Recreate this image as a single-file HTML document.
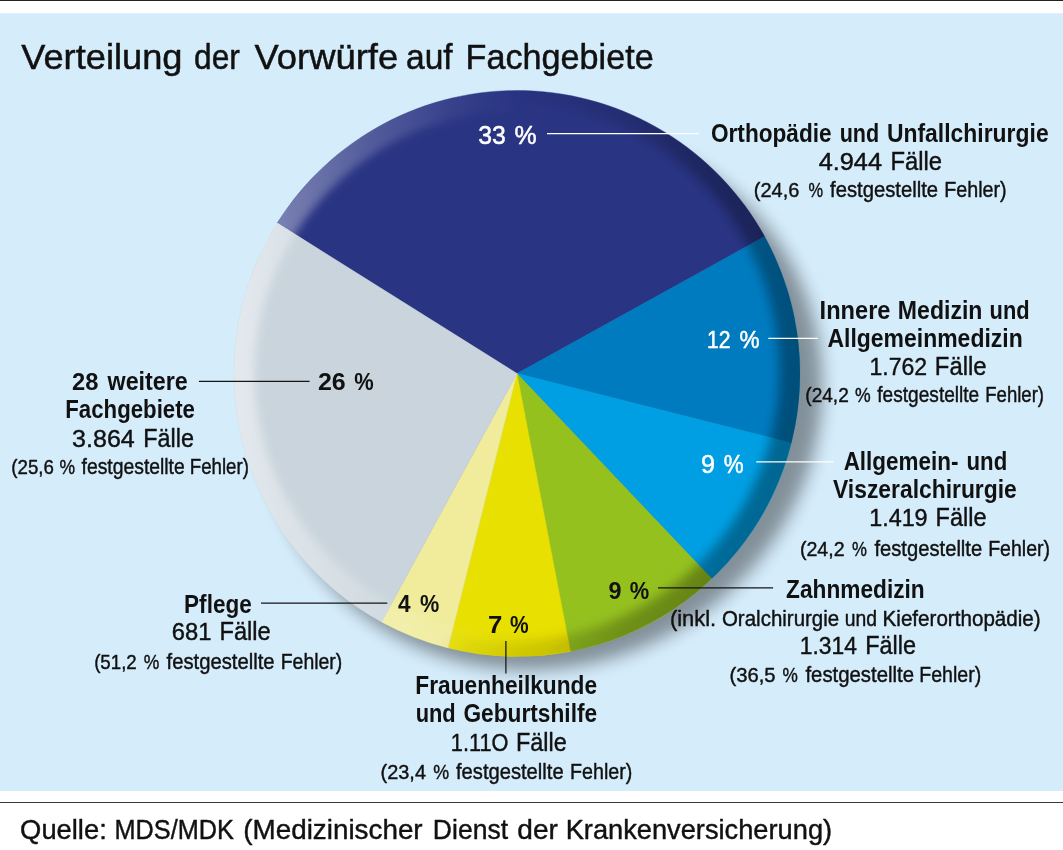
<!DOCTYPE html>
<html lang="de"><head><meta charset="utf-8"><title>Verteilung der Vorwürfe auf Fachgebiete</title>
<style>html,body{margin:0;padding:0;background:#fff}body{width:1063px;height:850px;overflow:hidden}svg{display:block}text{font-family:"Liberation Sans",sans-serif}</style></head><body>
<svg width="1063" height="850" viewBox="0 0 1063 850">
<desc>Tortendiagramm: Verteilung der Vorwürfe auf Fachgebiete. Orthopädie und Unfallchirurgie 33 %, 4.944 Fälle; Innere Medizin und Allgemeinmedizin 12 %, 1.762 Fälle; Allgemein- und Viszeralchirurgie 9 %, 1.419 Fälle; Zahnmedizin 9 %, 1.314 Fälle; Frauenheilkunde und Geburtshilfe 7 %, 1.110 Fälle; Pflege 4 %, 681 Fälle; 28 weitere Fachgebiete 26 %, 3.864 Fälle.</desc>
<defs>
<clipPath id="pc"><circle cx="517" cy="373.5" r="283"/></clipPath>
<filter id="b1" x="-10%" y="-10%" width="120%" height="120%"><feGaussianBlur stdDeviation="4.5"/></filter>
<filter id="b2" x="-10%" y="-10%" width="120%" height="120%"><feGaussianBlur stdDeviation="5.5"/></filter>
<filter id="b3" x="-10%" y="-10%" width="120%" height="120%"><feGaussianBlur stdDeviation="8.5"/></filter>
<linearGradient id="hl" gradientUnits="userSpaceOnUse" x1="234" y1="373.5" x2="517" y2="373.5" gradientTransform="rotate(0 517 373.5)"><stop offset="0" stop-color="#fff" stop-opacity="0.48"/><stop offset="0.15" stop-color="#fff" stop-opacity="0.3792"/><stop offset="0.5" stop-color="#fff" stop-opacity="0.1872"/><stop offset="0.8" stop-color="#fff" stop-opacity="0.0528"/><stop offset="1" stop-color="#fff" stop-opacity="0"/></linearGradient>
<linearGradient id="sh" gradientUnits="userSpaceOnUse" x1="474.55" y1="373.5" x2="800" y2="373.5" gradientTransform="rotate(8 517 373.5)"><stop offset="0" stop-color="#000" stop-opacity="0"/><stop offset="0.13" stop-color="#000" stop-opacity="0.0612"/><stop offset="0.357" stop-color="#000" stop-opacity="0.1332"/><stop offset="0.565" stop-color="#000" stop-opacity="0.252"/><stop offset="0.887" stop-color="#000" stop-opacity="0.342"/><stop offset="1" stop-color="#000" stop-opacity="0.36"/></linearGradient>
</defs>
<rect width="1063" height="850" fill="#fff"/>
<rect x="0" y="0" width="1063" height="1" fill="#222"/>
<rect x="0" y="13.3" width="1063" height="777.7" fill="#d5ecfb"/>
<rect x="0" y="802" width="1063" height="1" fill="#3a3a3a"/>
<ellipse cx="543.4" cy="399.8" rx="282.9" ry="266.1" transform="rotate(-29.75 543.4 399.8)" fill="#000" opacity="0.39" filter="url(#b3)"/>
<path d="M517 373.5 L277.26 223.11 A283 283 0 0 1 764.64 236.51 Z" fill="#293483" stroke="#293483" stroke-width="0.4"/>
<path d="M517 373.5 L764.64 236.51 A283 283 0 0 1 791.35 442.92 Z" fill="#007bc0" stroke="#007bc0" stroke-width="0.4"/>
<path d="M517 373.5 L791.35 442.92 A283 283 0 0 1 711.80 578.78 Z" fill="#009fe3" stroke="#009fe3" stroke-width="0.4"/>
<path d="M517 373.5 L711.80 578.78 A283 283 0 0 1 570.51 651.39 Z" fill="#95c11f" stroke="#95c11f" stroke-width="0.4"/>
<path d="M517 373.5 L570.51 651.39 A283 283 0 0 1 448.06 647.97 Z" fill="#e8e000" stroke="#e8e000" stroke-width="0.4"/>
<path d="M517 373.5 L448.06 647.97 A283 283 0 0 1 381.53 621.97 Z" fill="#f0ec9c" stroke="#f0ec9c" stroke-width="0.4"/>
<path d="M517 373.5 L381.53 621.97 A283 283 0 0 1 277.26 223.11 Z" fill="#c9d4dc" stroke="#c9d4dc" stroke-width="0.4"/>
<g clip-path="url(#pc)">
<path d="M194 373.5a323 323 0 1 0 646 0a323 323 0 1 0 -646 0z M255 373.5a262 262 0 1 0 524 0a262 262 0 1 0 -524 0z" fill-rule="evenodd" fill="url(#hl)" filter="url(#b1)"/>
<path d="M194 373.5a323 323 0 1 0 646 0a323 323 0 1 0 -646 0z M239 371.5a270 270 0 1 0 540 0a270 270 0 1 0 -540 0z" fill-rule="evenodd" fill="url(#sh)" filter="url(#b2)"/>
</g>
<line x1="547" y1="133.6" x2="699" y2="133.6" stroke="#fff" stroke-width="1.15"/>
<line x1="768.3" y1="338.3" x2="817.8" y2="338.3" stroke="#fff" stroke-width="1.15"/>
<line x1="756.2" y1="461.8" x2="833.6" y2="461.8" stroke="#fff" stroke-width="1.15"/>
<line x1="658" y1="587.8" x2="773.1" y2="587.8" stroke="#151515" stroke-width="1.25"/>
<line x1="505.9" y1="641" x2="505.9" y2="673.5" stroke="#151515" stroke-width="1.25"/>
<line x1="261" y1="603.2" x2="387.3" y2="603.2" stroke="#151515" stroke-width="1.25"/>
<line x1="198.9" y1="381.4" x2="309.6" y2="381.4" stroke="#151515" stroke-width="1.25"/>
<g opacity="0.999">
<text font-weight="400" fill="#111" stroke="#111" stroke-width="0.5" stroke-linejoin="round"><tspan x="21.25" y="69.15" font-size="35.79" textLength="161.24" lengthAdjust="spacingAndGlyphs">Verteilung</tspan> <tspan x="194.06" y="69.15" font-size="35.79" textLength="45.85" lengthAdjust="spacingAndGlyphs">der</tspan> <tspan x="254.55" y="69.15" font-size="35.79" textLength="143.68" lengthAdjust="spacingAndGlyphs">Vorwürfe</tspan> <tspan x="406.00" y="69.15" font-size="35.79" textLength="46.63" lengthAdjust="spacingAndGlyphs">auf</tspan> <tspan x="465.58" y="69.15" font-size="35.79" textLength="188.05" lengthAdjust="spacingAndGlyphs">Fachgebiete</tspan>
</text>
<text font-weight="400" fill="#111" stroke="#111" stroke-width="0.42" stroke-linejoin="round"><tspan x="20.13" y="839.09" font-size="27.2" textLength="86.63" lengthAdjust="spacingAndGlyphs">Quelle:</tspan> <tspan x="114.54" y="839.09" font-size="27.2" textLength="119.33" lengthAdjust="spacingAndGlyphs">MDS/MDK</tspan> <tspan x="243.31" y="839.09" font-size="27.2" textLength="179.32" lengthAdjust="spacingAndGlyphs">(Medizinischer</tspan> <tspan x="432.84" y="839.09" font-size="27.2" textLength="75.26" lengthAdjust="spacingAndGlyphs">Dienst</tspan> <tspan x="517.33" y="839.09" font-size="27.2" textLength="40.59" lengthAdjust="spacingAndGlyphs">der</tspan> <tspan x="565.68" y="839.09" font-size="27.2" textLength="266.42" lengthAdjust="spacingAndGlyphs">Krankenversicherung)</tspan>
</text>
<text font-weight="700" fill="#111"><tspan x="710.99" y="141.80" font-size="25.4" textLength="120.57" lengthAdjust="spacingAndGlyphs">Orthopädie</tspan> <tspan x="839.69" y="141.80" font-size="25.4" textLength="39.49" lengthAdjust="spacingAndGlyphs">und</tspan> <tspan x="886.93" y="141.80" font-size="25.4" textLength="161.75" lengthAdjust="spacingAndGlyphs">Unfallchirurgie</tspan>
</text>
<text font-weight="400" fill="#111" stroke="#111" stroke-width="0.42" stroke-linejoin="round"><tspan x="818.71" y="170.09" font-size="23.4" textLength="63.31" lengthAdjust="spacingAndGlyphs">4.944</tspan> <tspan x="890.55" y="170.09" font-size="25" textLength="51.50" lengthAdjust="spacingAndGlyphs">Fälle</tspan>
</text>
<text font-weight="400" fill="#111" stroke="#111" stroke-width="0.42" stroke-linejoin="round"><tspan x="753.87" y="197.49" font-size="20.6" textLength="45.53" lengthAdjust="spacingAndGlyphs">(24,6</tspan> <tspan x="808.40" y="197.49" font-size="20.6" textLength="14.58" lengthAdjust="spacingAndGlyphs">%</tspan> <tspan x="830.01" y="197.49" font-size="21.8" textLength="108.10" lengthAdjust="spacingAndGlyphs">festgestellte</tspan> <tspan x="944.27" y="197.49" font-size="21.8" textLength="62.34" lengthAdjust="spacingAndGlyphs">Fehler)</tspan>
</text>
<text font-weight="700" fill="#111"><tspan x="819.62" y="319.10" font-size="25.4" textLength="70.86" lengthAdjust="spacingAndGlyphs">Innere</tspan> <tspan x="897.86" y="319.10" font-size="25.4" textLength="84.56" lengthAdjust="spacingAndGlyphs">Medizin</tspan> <tspan x="989.58" y="319.10" font-size="25.4" textLength="40.02" lengthAdjust="spacingAndGlyphs">und</tspan>
</text>
<text font-weight="700" fill="#111"><tspan x="827.44" y="347.40" font-size="25.4" textLength="195.27" lengthAdjust="spacingAndGlyphs">Allgemeinmedizin</tspan>
</text>
<text font-weight="400" fill="#111" stroke="#111" stroke-width="0.42" stroke-linejoin="round"><tspan x="869.47" y="374.69" font-size="23.4" textLength="57.65" lengthAdjust="spacingAndGlyphs">1.762</tspan> <tspan x="934.85" y="374.69" font-size="25" textLength="51.71" lengthAdjust="spacingAndGlyphs">Fälle</tspan>
</text>
<text font-weight="400" fill="#111" stroke="#111" stroke-width="0.42" stroke-linejoin="round"><tspan x="805.32" y="402.19" font-size="20.6" textLength="43.45" lengthAdjust="spacingAndGlyphs">(24,2</tspan> <tspan x="855.06" y="402.19" font-size="20.6" textLength="15.65" lengthAdjust="spacingAndGlyphs">%</tspan> <tspan x="877.31" y="402.19" font-size="21.8" textLength="101.95" lengthAdjust="spacingAndGlyphs">festgestellte</tspan> <tspan x="985.26" y="402.19" font-size="21.8" textLength="58.79" lengthAdjust="spacingAndGlyphs">Fehler)</tspan>
</text>
<text font-weight="700" fill="#111"><tspan x="843.65" y="470.10" font-size="25.4" textLength="114.86" lengthAdjust="spacingAndGlyphs">Allgemein-</tspan> <tspan x="966.56" y="470.10" font-size="25.4" textLength="40.66" lengthAdjust="spacingAndGlyphs">und</tspan>
</text>
<text font-weight="700" fill="#111"><tspan x="833.00" y="497.80" font-size="25.4" textLength="183.77" lengthAdjust="spacingAndGlyphs">Viszeralchirurgie</tspan>
</text>
<text font-weight="400" fill="#111" stroke="#111" stroke-width="0.42" stroke-linejoin="round"><tspan x="869.15" y="525.59" font-size="23.4" textLength="58.49" lengthAdjust="spacingAndGlyphs">1.419</tspan> <tspan x="935.57" y="525.59" font-size="25" textLength="50.97" lengthAdjust="spacingAndGlyphs">Fälle</tspan>
</text>
<text font-weight="400" fill="#111" stroke="#111" stroke-width="0.42" stroke-linejoin="round"><tspan x="799.89" y="555.69" font-size="20.6" textLength="44.69" lengthAdjust="spacingAndGlyphs">(24,2</tspan> <tspan x="852.09" y="555.69" font-size="20.6" textLength="14.90" lengthAdjust="spacingAndGlyphs">%</tspan> <tspan x="874.41" y="555.69" font-size="21.8" textLength="107.80" lengthAdjust="spacingAndGlyphs">festgestellte</tspan> <tspan x="988.18" y="555.69" font-size="21.8" textLength="61.92" lengthAdjust="spacingAndGlyphs">Fehler)</tspan>
</text>
<text font-weight="700" fill="#111"><tspan x="786.05" y="598.30" font-size="25.4" textLength="138.65" lengthAdjust="spacingAndGlyphs">Zahnmedizin</tspan>
</text>
<text font-weight="400" fill="#111" stroke="#111" stroke-width="0.42" stroke-linejoin="round"><tspan x="669.88" y="626.09" font-size="21.8" textLength="46.29" lengthAdjust="spacingAndGlyphs">(inkl.</tspan> <tspan x="721.95" y="626.09" font-size="21.8" textLength="117.27" lengthAdjust="spacingAndGlyphs">Oralchirurgie</tspan> <tspan x="844.80" y="626.09" font-size="21.8" textLength="32.28" lengthAdjust="spacingAndGlyphs">und</tspan> <tspan x="882.60" y="626.09" font-size="21.8" textLength="158.06" lengthAdjust="spacingAndGlyphs">Kieferorthopädie)</tspan>
</text>
<text font-weight="400" fill="#111" stroke="#111" stroke-width="0.42" stroke-linejoin="round"><tspan x="799.78" y="654.39" font-size="23.4" textLength="57.18" lengthAdjust="spacingAndGlyphs">1.314</tspan> <tspan x="865.28" y="654.39" font-size="25" textLength="50.76" lengthAdjust="spacingAndGlyphs">Fälle</tspan>
</text>
<text font-weight="400" fill="#111" stroke="#111" stroke-width="0.42" stroke-linejoin="round"><tspan x="729.46" y="682.19" font-size="20.6" textLength="46.15" lengthAdjust="spacingAndGlyphs">(36,5</tspan> <tspan x="782.57" y="682.19" font-size="20.6" textLength="15.33" lengthAdjust="spacingAndGlyphs">%</tspan> <tspan x="805.41" y="682.19" font-size="21.8" textLength="108.60" lengthAdjust="spacingAndGlyphs">festgestellte</tspan> <tspan x="919.28" y="682.19" font-size="21.8" textLength="62.02" lengthAdjust="spacingAndGlyphs">Fehler)</tspan>
</text>
<text font-weight="700" fill="#111"><tspan x="415.28" y="693.90" font-size="25.4" textLength="181.89" lengthAdjust="spacingAndGlyphs">Frauenheilkunde</tspan>
</text>
<text font-weight="700" fill="#111"><tspan x="415.68" y="721.80" font-size="25.4" textLength="40.02" lengthAdjust="spacingAndGlyphs">und</tspan> <tspan x="463.39" y="721.80" font-size="25.4" textLength="133.78" lengthAdjust="spacingAndGlyphs">Geburtshilfe</tspan>
</text>
<text font-weight="400" fill="#111" stroke="#111" stroke-width="0.42" stroke-linejoin="round"><tspan x="450.85" y="750.59" font-size="23.4" textLength="57.58" lengthAdjust="spacingAndGlyphs">1.11O</tspan> <tspan x="515.98" y="750.59" font-size="25" textLength="50.76" lengthAdjust="spacingAndGlyphs">Fälle</tspan>
</text>
<text font-weight="400" fill="#111" stroke="#111" stroke-width="0.42" stroke-linejoin="round"><tspan x="380.58" y="778.69" font-size="20.6" textLength="45.41" lengthAdjust="spacingAndGlyphs">(23,4</tspan> <tspan x="433.15" y="778.69" font-size="20.6" textLength="15.87" lengthAdjust="spacingAndGlyphs">%</tspan> <tspan x="456.01" y="778.69" font-size="21.8" textLength="107.60" lengthAdjust="spacingAndGlyphs">festgestellte</tspan> <tspan x="569.97" y="778.69" font-size="21.8" textLength="62.34" lengthAdjust="spacingAndGlyphs">Fehler)</tspan>
</text>
<text font-weight="700" fill="#111"><tspan x="184.09" y="613.20" font-size="25.4" textLength="67.67" lengthAdjust="spacingAndGlyphs">Pflege</tspan>
</text>
<text font-weight="400" fill="#111" stroke="#111" stroke-width="0.42" stroke-linejoin="round"><tspan x="171.80" y="640.49" font-size="23.4" textLength="39.66" lengthAdjust="spacingAndGlyphs">681</tspan> <tspan x="219.46" y="640.49" font-size="25" textLength="51.29" lengthAdjust="spacingAndGlyphs">Fälle</tspan>
</text>
<text font-weight="400" fill="#111" stroke="#111" stroke-width="0.42" stroke-linejoin="round"><tspan x="94.13" y="668.59" font-size="20.6" textLength="42.61" lengthAdjust="spacingAndGlyphs">(51,2</tspan> <tspan x="143.86" y="668.59" font-size="20.6" textLength="15.55" lengthAdjust="spacingAndGlyphs">%</tspan> <tspan x="166.51" y="668.59" font-size="21.8" textLength="108.10" lengthAdjust="spacingAndGlyphs">festgestellte</tspan> <tspan x="280.69" y="668.59" font-size="21.8" textLength="61.61" lengthAdjust="spacingAndGlyphs">Fehler)</tspan>
</text>
<text font-weight="700" fill="#111"><tspan x="71.96" y="390.30" font-size="24.4" textLength="26.43" lengthAdjust="spacingAndGlyphs">28</tspan> <tspan x="107.56" y="390.30" font-size="25.4" textLength="80.22" lengthAdjust="spacingAndGlyphs">weitere</tspan>
</text>
<text font-weight="700" fill="#111"><tspan x="65.31" y="418.20" font-size="25.4" textLength="129.64" lengthAdjust="spacingAndGlyphs">Fachgebiete</tspan>
</text>
<text font-weight="400" fill="#111" stroke="#111" stroke-width="0.42" stroke-linejoin="round"><tspan x="72.13" y="446.69" font-size="23.4" textLength="62.69" lengthAdjust="spacingAndGlyphs">3.864</tspan> <tspan x="143.28" y="446.69" font-size="25" textLength="50.65" lengthAdjust="spacingAndGlyphs">Fälle</tspan>
</text>
<text font-weight="400" fill="#111" stroke="#111" stroke-width="0.42" stroke-linejoin="round"><tspan x="11.33" y="474.19" font-size="20.6" textLength="42.61" lengthAdjust="spacingAndGlyphs">(25,6</tspan> <tspan x="59.56" y="474.19" font-size="20.6" textLength="15.55" lengthAdjust="spacingAndGlyphs">%</tspan> <tspan x="81.51" y="474.19" font-size="21.8" textLength="103.26" lengthAdjust="spacingAndGlyphs">festgestellte</tspan> <tspan x="189.75" y="474.19" font-size="21.8" textLength="59.21" lengthAdjust="spacingAndGlyphs">Fehler)</tspan>
</text>
<text font-weight="400" fill="#fff" stroke="#fff" stroke-width="0.5" stroke-linejoin="round"><tspan x="478.18" y="144.05" font-size="25.69" textLength="27.58" lengthAdjust="spacingAndGlyphs">33</tspan> <tspan x="514.47" y="144.05" font-size="25.69" textLength="22.12" lengthAdjust="spacingAndGlyphs">%</tspan>
</text>
<text font-weight="400" fill="#fff" stroke="#fff" stroke-width="0.5" stroke-linejoin="round"><tspan x="707.02" y="347.75" font-size="23.49" textLength="23.58" lengthAdjust="spacingAndGlyphs">12</tspan> <tspan x="739.44" y="347.75" font-size="23.49" textLength="20.08" lengthAdjust="spacingAndGlyphs">%</tspan>
</text>
<text font-weight="400" fill="#fff" stroke="#fff" stroke-width="0.5" stroke-linejoin="round"><tspan x="700.97" y="472.95" font-size="24.99" textLength="14.00" lengthAdjust="spacingAndGlyphs">9</tspan> <tspan x="723.85" y="472.95" font-size="24.99" textLength="19.86" lengthAdjust="spacingAndGlyphs">%</tspan>
</text>
<text font-weight="700" fill="#111"><tspan x="608.57" y="598.60" font-size="23.6" textLength="13.01" lengthAdjust="spacingAndGlyphs">9</tspan> <tspan x="629.76" y="598.60" font-size="23.6" textLength="19.45" lengthAdjust="spacingAndGlyphs">%</tspan>
</text>
<text font-weight="700" fill="#111"><tspan x="488.09" y="633.40" font-size="23.6" textLength="14.35" lengthAdjust="spacingAndGlyphs">7</tspan> <tspan x="510.07" y="633.40" font-size="23.6" textLength="18.62" lengthAdjust="spacingAndGlyphs">%</tspan>
</text>
<text font-weight="700" fill="#111"><tspan x="397.90" y="611.50" font-size="23.6" textLength="12.56" lengthAdjust="spacingAndGlyphs">4</tspan> <tspan x="420.06" y="611.50" font-size="23.6" textLength="19.24" lengthAdjust="spacingAndGlyphs">%</tspan>
</text>
<text font-weight="700" fill="#111"><tspan x="317.92" y="389.70" font-size="24" textLength="27.80" lengthAdjust="spacingAndGlyphs">26</tspan> <tspan x="354.26" y="389.70" font-size="24" textLength="19.45" lengthAdjust="spacingAndGlyphs">%</tspan>
</text>
</g>
</svg></body></html>
